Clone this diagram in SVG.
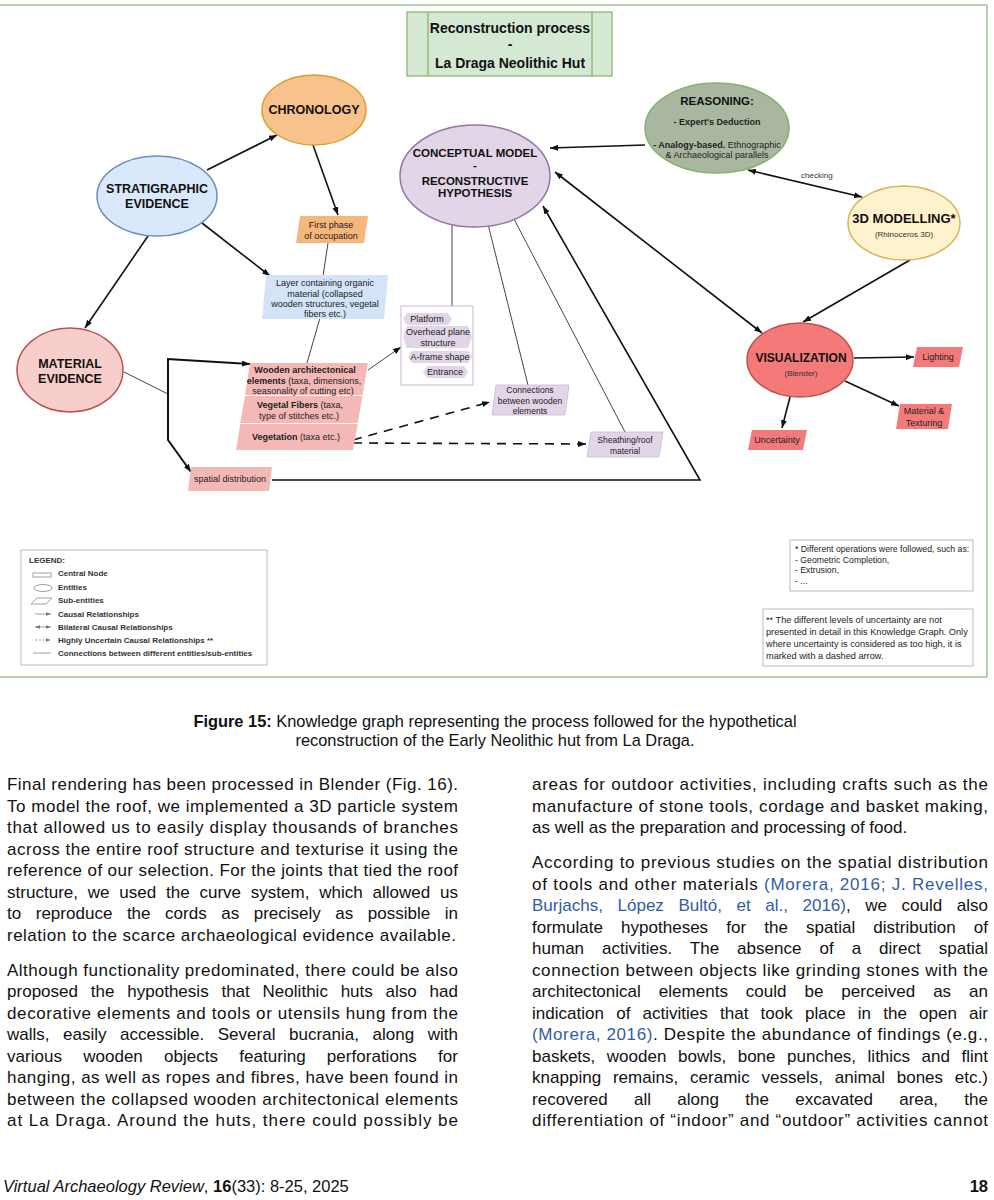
<svg xmlns="http://www.w3.org/2000/svg" width="994" height="1200" viewBox="0 0 994 1200">
<defs>
<marker id="arr" viewBox="0 0 8 6" refX="8" refY="3" markerWidth="8" markerHeight="6" markerUnits="userSpaceOnUse" orient="auto-start-reverse"><path d="M0,0 L8,3 L0,6 z" fill="#111"/></marker>
<marker id="sarr" viewBox="0 0 6 4" refX="6" refY="2" markerWidth="5" markerHeight="4" markerUnits="userSpaceOnUse" orient="auto-start-reverse"><path d="M0,0 L6,2 L0,4 z" fill="#777"/></marker>
<style>
text{font-family:"Liberation Sans",Arial,sans-serif;fill:#111}
.t{font-weight:bold;font-size:12.5px;text-anchor:middle}
.s{font-size:9px;text-anchor:middle;fill:#222}
.xs{font-size:8px;text-anchor:middle;fill:#333}
.b{font-weight:bold}
.c{fill:none;stroke:#111;stroke-width:1.6}
.thick{fill:none;stroke:#111;stroke-width:2}
.ln{fill:none;stroke:#444;stroke-width:1}
.dash{fill:none;stroke:#111;stroke-width:1.6;stroke-dasharray:9,7}
.lg{font-size:8px;font-weight:bold;fill:#333}
.li{fill:none;stroke:#888;stroke-width:0.8}
.note{font-size:8.7px;fill:#222}
.note2{font-size:9.2px;fill:#222}
.body{font-size:17px}
.cite{fill:#2f5da6}
</style>
</defs>
<rect width="994" height="1200" fill="#fff"/>
<!-- frame -->
<g id="frame" fill="none" stroke="#9cc58f" stroke-width="1.5">
<line x1="0" y1="5" x2="987" y2="5"/>
<line x1="987" y1="5" x2="987" y2="677"/>
<line x1="0" y1="677" x2="987" y2="677"/>
</g>
<!-- title -->
<g id="title">
<rect x="407" y="12" width="205" height="64" fill="#d5e8d4" stroke="#82b366" stroke-width="1.2"/>
<line x1="428" y1="12" x2="428" y2="76" stroke="#82b366" stroke-width="1.2"/>
<line x1="592" y1="12" x2="592" y2="76" stroke="#82b366" stroke-width="1.2"/>
<text x="510" y="33" class="t" style="font-size:14px">Reconstruction process</text>
<text x="510" y="49" class="t" style="font-size:14px">-</text>
<text x="510" y="68" class="t" style="font-size:14px">La Draga Neolithic Hut</text>
</g>
<!-- connectors -->
<g id="connectors">
<line class="c" x1="207" y1="170" x2="277" y2="135" marker-end="url(#arr)"/>
<line class="c" x1="313" y1="145" x2="338" y2="215" marker-end="url(#arr)"/>
<line class="c" x1="202" y1="223" x2="270" y2="276" marker-end="url(#arr)"/>
<line class="c" x1="148" y1="236" x2="85" y2="328" marker-end="url(#arr)"/>
<line class="ln" x1="328" y1="243" x2="323" y2="276"/>
<line class="ln" x1="320" y1="318" x2="307" y2="363"/>
<line class="ln" x1="124" y1="372" x2="168" y2="394"/>
<polyline class="thick" points="168,359 168,440 191,472" marker-end="url(#arr)"/>
<line class="thick" x1="167" y1="359" x2="250" y2="364" marker-end="url(#arr)"/>
<line class="ln" x1="368" y1="370" x2="401" y2="347" marker-end="url(#arr)"/>
<line class="ln" x1="452" y1="225" x2="452" y2="306"/>
<line class="ln" x1="488" y1="224" x2="528" y2="385"/>
<line class="ln" x1="514" y1="219" x2="625" y2="432"/>
<polyline class="c" points="272,480 700,480 543,206" marker-end="url(#arr)"/>
<line class="dash" x1="353" y1="440" x2="490" y2="402" marker-end="url(#arr)"/>
<line class="dash" x1="353" y1="443" x2="586" y2="444" marker-end="url(#arr)"/>
<line class="c" x1="645" y1="145" x2="550" y2="148" marker-end="url(#arr)"/>
<line class="c" x1="748" y1="170" x2="862" y2="197" marker-start="url(#arr)" marker-end="url(#arr)"/>
<text x="801" y="178" style="font-size:8px;fill:#333">checking</text>
<line class="c" x1="555" y1="172" x2="762" y2="333" marker-start="url(#arr)" marker-end="url(#arr)"/>
<line class="c" x1="910" y1="260" x2="803" y2="322" marker-end="url(#arr)"/>
<line class="c" x1="854" y1="358" x2="914" y2="357" marker-end="url(#arr)"/>
<line class="c" x1="845" y1="381" x2="899" y2="406" marker-end="url(#arr)"/>
<line class="c" x1="790" y1="397" x2="782" y2="428" marker-end="url(#arr)"/>
</g>
<!-- nodes -->
<g id="chronology">
<ellipse cx="314" cy="110" rx="52" ry="35" fill="#f7c28c" stroke="#d6a12c" stroke-width="1.5"/>
<text x="314" y="114" class="t">CHRONOLOGY</text>
</g>
<g id="stratigraphic">
<ellipse cx="157" cy="196" rx="60" ry="40" fill="#dae8fc" stroke="#6c8ebf" stroke-width="1.5"/>
<text x="157" y="193" class="t">STRATIGRAPHIC</text>
<text x="157" y="208" class="t">EVIDENCE</text>
</g>
<g id="first-phase">
<polygon points="300,216 368,216 364,243 296,243" fill="#f5b77a"/>
<text x="331" y="228" class="s">First phase</text>
<text x="331" y="238.5" class="s">of occupation</text>
</g>
<g id="layer">
<polygon points="266,275 388,275 384,319 262,319" fill="#d4e4f8"/>
<text x="325" y="286" class="s">Layer containing organic</text>
<text x="325" y="296.5" class="s">material (collapsed</text>
<text x="325" y="307" class="s">wooden structures, vegetal</text>
<text x="325" y="317" class="s">fibers etc.)</text>
</g>
<g id="material-evidence">
<ellipse cx="70" cy="370" rx="53" ry="42" fill="#f8cecc" stroke="#b85450" stroke-width="1.5"/>
<text x="70" y="368" class="t">MATERIAL</text>
<text x="70" y="383" class="t">EVIDENCE</text>
</g>
<g id="wooden">
<polygon points="250,363 368,363 362.5,395 245,395" fill="#f4b9b6"/>
<polygon points="245,396 362.5,396 357.7,423 240.3,423" fill="#f4b9b6"/>
<polygon points="240.3,424 357.7,424 353,450 236,450" fill="#f4b9b6"/>
<text x="305" y="373" class="s b">Wooden architectonical</text>
<text x="304" y="383.5" class="s"><tspan class="b">elements</tspan> (taxa, dimensions,</text>
<text x="303" y="394" class="s">seasonality of cutting etc)</text>
<text x="300" y="408" class="s"><tspan class="b">Vegetal Fibers</tspan> (taxa,</text>
<text x="299" y="419" class="s">type of stitches etc.)</text>
<text x="296" y="440" class="s"><tspan class="b">Vegetation</tspan> (taxa etc.)</text>
</g>
<g id="spatial">
<polygon points="191,467 272,467 269,491 188,491" fill="#f4b9b6"/>
<text x="230" y="482" class="s">spatial distribution</text>
</g>
<g id="conceptual">
<ellipse cx="475" cy="176" rx="75" ry="51" fill="#e1d5e7" stroke="#9673a6" stroke-width="1.5"/>
<text x="475" y="157" class="t" style="font-size:11.5px">CONCEPTUAL MODEL</text>
<text x="475" y="169" class="t" style="font-size:11.5px">-</text>
<text x="475" y="185" class="t" style="font-size:11.5px">RECONSTRUCTIVE</text>
<text x="475" y="197" class="t" style="font-size:11.5px">HYPOTHESIS</text>
</g>
<g id="platform">
<rect x="401" y="306" width="72" height="79" fill="#fff" stroke="#c9b9d6" stroke-width="1"/>
<path d="M407,313 L448,313 L452,319 L448,325 L407,325 L403,319 Z" fill="#e1d5e7"/>
<path d="M407,326 L468,326 L472,337 L468,348 L407,348 L403,337 Z" fill="#e1d5e7"/>
<path d="M412,351 L468,351 L472,357 L468,363 L412,363 L408,357 Z" fill="#e1d5e7"/>
<path d="M427,366 L464,366 L468,372 L464,378 L427,378 L423,372 Z" fill="#e1d5e7"/>
<text x="427" y="322" class="s">Platform</text>
<text x="438" y="335" class="s">Overhead plane</text>
<text x="438" y="346" class="s">structure</text>
<text x="440" y="360" class="s">A-frame shape</text>
<text x="445" y="375" class="s">Entrance</text>
</g>
<g id="connections">
<polygon points="496,385 569,385 565,415 492,415" fill="#e1d5e7" stroke="#c9b9d6" stroke-width="0.8"/>
<text x="530" y="393" class="s" style="font-size:8.5px">Connections</text>
<text x="530" y="404" class="s" style="font-size:8.5px">between wooden</text>
<text x="530" y="414" class="s" style="font-size:8.5px">elements</text>
</g>
<g id="sheathing">
<polygon points="591,432 663,432 659,457 587,457" fill="#e1d5e7" stroke="#c9b9d6" stroke-width="0.8"/>
<text x="625" y="443" class="s" style="font-size:8.5px">Sheathing/roof</text>
<text x="625" y="454" class="s" style="font-size:8.5px">material</text>
</g>
<g id="reasoning">
<ellipse cx="717" cy="128" rx="72" ry="45" fill="#a9b7a1" stroke="#82b366" stroke-width="1.5"/>
<text x="717" y="105" class="t" style="font-size:11.5px">REASONING:</text>
<text x="717" y="125" class="s b">- Expert's Deduction</text>
<text x="717" y="148" class="s"><tspan class="b">- Analogy-based.</tspan> Ethnographic</text>
<text x="717" y="158" class="s">&amp; Archaeological parallels</text>
</g>
<g id="modelling">
<ellipse cx="904" cy="223" rx="56" ry="37" fill="#fff2cc" stroke="#d6b656" stroke-width="1.5"/>
<text x="904" y="223" class="t" style="font-size:13px">3D MODELLING*</text>
<text x="904" y="237" class="xs">(Rhinoceros 3D)</text>
</g>
<g id="visualization">
<ellipse cx="800" cy="360" rx="53" ry="37" fill="#f47a7a" stroke="#b85450" stroke-width="1.5"/>
<text x="801" y="362" class="t" style="font-size:12px">VISUALIZATION</text>
<text x="801" y="376" class="xs">(Blender)</text>
</g>
<g id="lighting">
<polygon points="917,347 963,347 959,367 913,367" fill="#f47a7a"/>
<text x="938" y="360" class="s">Lighting</text>
</g>
<g id="material-texturing">
<polygon points="900,404 952,404 948,429 896,429" fill="#f47a7a"/>
<text x="924" y="414" class="s">Material &amp;</text>
<text x="924" y="426" class="s">Texturing</text>
</g>
<g id="uncertainty">
<polygon points="752,430 807,430 803,450 748,450" fill="#f47a7a"/>
<text x="777" y="443" class="s">Uncertainty</text>
</g>
<!-- legend -->
<g id="legend">
<rect x="21" y="550" width="246" height="115" fill="#fff" stroke="#bbb" stroke-width="1"/>
<text x="29" y="563" class="lg">LEGEND:</text>
<rect x="33" y="573" width="18" height="4" class="li"/>
<text x="58" y="576" class="lg">Central Node</text>
<ellipse cx="43" cy="588" rx="9" ry="3.5" class="li"/>
<text x="58" y="590" class="lg">Entities</text>
<polygon points="31,604 37,598 52,598 46,604" class="li"/>
<text x="58" y="603" class="lg">Sub-entities</text>
<line x1="35" y1="614" x2="51" y2="614" class="li" marker-end="url(#sarr)"/>
<text x="58" y="617" class="lg">Causal Relationships</text>
<line x1="35" y1="627" x2="51" y2="627" class="li" marker-start="url(#sarr)" marker-end="url(#sarr)"/>
<text x="58" y="630" class="lg">Bilateral Causal Relationships</text>
<line x1="35" y1="640" x2="51" y2="640" class="li" stroke-dasharray="2,2" marker-end="url(#sarr)"/>
<text x="58" y="643" class="lg">Highly Uncertain Causal Relationships **</text>
<line x1="33" y1="653" x2="51" y2="653" class="li"/>
<text x="58" y="656" class="lg">Connections between different entities/sub-entities</text>
</g>
<g id="note1">
<rect x="790" y="540" width="183" height="51" fill="#fff" stroke="#bbb" stroke-width="1"/>
<text x="795" y="552" class="note">* Different operations were followed, such as:</text>
<text x="795" y="563" class="note">- Geometric Completion,</text>
<text x="795" y="573" class="note">- Extrusion,</text>
<text x="795" y="584" class="note">- ...</text>
</g>
<g id="note2">
<rect x="763" y="609" width="210" height="57" fill="#fff" stroke="#bbb" stroke-width="1"/>
<text x="766" y="623" class="note2">** The different levels of uncertainty are not</text>
<text x="766" y="635" class="note2">presented in detail in this Knowledge Graph. Only</text>
<text x="766" y="647" class="note2">where uncertainty is considered as too high, it is</text>
<text x="766" y="659" class="note2">marked with a dashed arrow.</text>
</g>
<!-- caption -->
<g id="caption">
<text x="495" y="727" text-anchor="middle" style="font-size:16.4px"><tspan font-weight="bold">Figure 15:</tspan> Knowledge graph representing the process followed for the hypothetical</text>
<text x="495" y="746" text-anchor="middle" style="font-size:16.4px">reconstruction of the Early Neolithic hut from La Draga.</text>
</g>
<!-- body text -->
<g id="body-left">
<text x="7" y="790" class="body" textLength="451" lengthAdjust="spacing">Final rendering has been processed in Blender (Fig. 16).</text>
<text x="7" y="811.5" class="body" textLength="451" lengthAdjust="spacing">To model the roof, we implemented a 3D particle system</text>
<text x="7" y="833" class="body" textLength="451" lengthAdjust="spacing">that allowed us to easily display thousands of branches</text>
<text x="7" y="854.5" class="body" textLength="451" lengthAdjust="spacing">across the entire roof structure and texturise it using the</text>
<text x="7" y="876" class="body" textLength="451" lengthAdjust="spacing">reference of our selection. For the joints that tied the roof</text>
<text x="7" y="897.5" class="body" word-spacing="5" textLength="451" lengthAdjust="spacing">structure, we used the curve system, which allowed us</text>
<text x="7" y="919" class="body" word-spacing="9.8" textLength="451" lengthAdjust="spacing">to reproduce the cords as precisely as possible in</text>
<text x="7" y="940.5" class="body" textLength="449" lengthAdjust="spacing">relation to the scarce archaeological evidence available.</text>
<text x="7" y="975.5" class="body" textLength="451" lengthAdjust="spacing">Although functionality predominated, there could be also</text>
<text x="7" y="997" class="body" word-spacing="8" textLength="451" lengthAdjust="spacing">proposed the hypothesis that Neolithic huts also had</text>
<text x="7" y="1018.5" class="body" textLength="451" lengthAdjust="spacing">decorative elements and tools or utensils hung from the</text>
<text x="7" y="1040" class="body" word-spacing="8.8" textLength="451" lengthAdjust="spacing">walls, easily accessible. Several bucrania, along with</text>
<text x="7" y="1061.5" class="body" word-spacing="16.5" textLength="451" lengthAdjust="spacing">various wooden objects featuring perforations for</text>
<text x="7" y="1083" class="body" textLength="451" lengthAdjust="spacing">hanging, as well as ropes and fibres, have been found in</text>
<text x="7" y="1104.5" class="body" textLength="451" lengthAdjust="spacing">between the collapsed wooden architectonical elements</text>
<text x="7" y="1126" class="body" textLength="451" lengthAdjust="spacing">at La Draga. Around the huts, there could possibly be</text>
</g>
<g id="body-right">
<text x="532" y="790" class="body" textLength="456" lengthAdjust="spacing">areas for outdoor activities, including crafts such as the</text>
<text x="532" y="811.5" class="body" textLength="456" lengthAdjust="spacing">manufacture of stone tools, cordage and basket making,</text>
<text x="532" y="833" class="body">as well as the preparation and processing of food.</text>
<text x="532" y="868" class="body" textLength="456" lengthAdjust="spacing">According to previous studies on the spatial distribution</text>
<text x="532" y="889.5" class="body" textLength="456" lengthAdjust="spacing">of tools and other materials <tspan class="cite">(Morera, 2016; J. Revelles,</tspan></text>
<text x="532" y="911" class="body" word-spacing="9.8" textLength="456" lengthAdjust="spacing"><tspan class="cite">Burjachs, López Bultó, et al., 2016)</tspan>, we could also</text>
<text x="532" y="932.5" class="body" word-spacing="13.4" textLength="456" lengthAdjust="spacing">formulate hypotheses for the spatial distribution of</text>
<text x="532" y="954" class="body" word-spacing="13.2" textLength="456" lengthAdjust="spacing">human activities. The absence of a direct spatial</text>
<text x="532" y="975.5" class="body" textLength="456" lengthAdjust="spacing">connection between objects like grinding stones with the</text>
<text x="532" y="997" class="body" word-spacing="13.2" textLength="456" lengthAdjust="spacing">architectonical elements could be perceived as an</text>
<text x="532" y="1018.5" class="body" word-spacing="7.4" textLength="456" lengthAdjust="spacing">indication of activities that took place in the open air</text>
<text x="532" y="1040" class="body" textLength="456" lengthAdjust="spacing"><tspan class="cite">(Morera, 2016)</tspan>. Despite the abundance of findings (e.g.,</text>
<text x="532" y="1061.5" class="body" word-spacing="6.8" textLength="456" lengthAdjust="spacing">baskets, wooden bowls, bone punches, lithics and flint</text>
<text x="532" y="1083" class="body" word-spacing="7" textLength="456" lengthAdjust="spacing">knapping remains, ceramic vessels, animal bones etc.)</text>
<text x="532" y="1104.5" class="body" word-spacing="21.5" textLength="456" lengthAdjust="spacing">recovered all along the excavated area, the</text>
<text x="532" y="1126" class="body" textLength="456" lengthAdjust="spacing">differentiation of “indoor” and “outdoor” activities cannot</text>
</g>
<g id="footer">
<text x="3" y="1192" style="font-size:16.5px"><tspan font-style="italic">Virtual Archaeology Review</tspan>, <tspan font-weight="bold">16</tspan>(33): 8-25, 2025</text>
<text x="988" y="1192" text-anchor="end" style="font-size:16.5px;font-weight:bold">18</text>
</g>
</svg>
